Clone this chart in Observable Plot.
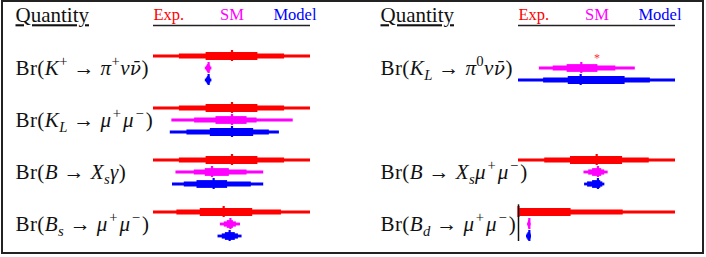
<!DOCTYPE html>
<html><head><meta charset="utf-8">
<script src="https://cdn.jsdelivr.net/npm/d3@7"></script>
<script src="https://cdn.jsdelivr.net/npm/@observablehq/plot@0.6"></script>
<style>
html,body{margin:0;padding:0;background:#fff;}
#wrap{position:relative;width:706px;height:257px;overflow:hidden;}
#frame{position:absolute;left:1px;top:0;width:703px;height:254px;border:2px solid #222;box-sizing:border-box;pointer-events:none;}
</style></head><body>
<div id="wrap"><div id="frame"></div></div>
<script>
// ---------------- data ----------------
const seriesNames = ["Exp", "SM", "Model"];
const seriesColors = ["#ff0000", "#ff00ff", "#0000ff"];
const legendLabels = ["Exp.", "SM", "Model"];
const columns = ["left", "right"];
const headerTitle = "Quantity";
const xDomain = [0, 100]; // normalized position within each panel
const quantityLabels = [
  "Br($K^{+} → π^{+}νν̄$)",
  "Br($K_{L} → μ^{+}μ^{−}$)",
  "Br($B → X_{s}γ$)",
  "Br($B_{s} → μ^{+}μ^{−}$)",
  "Br($K_{L} → π^{0}νν̄$)",
  "Br($B → X_{s}μ^{+}μ^{−}$)",
  "Br($B_{d} → μ^{+}μ^{−}$)"
];
const quantityColumn = ["left", "left", "left", "left", "right", "right", "right"];
const quantityRow = [1, 2, 3, 4, 1, 3, 4];
// [outer lo, outer hi, middle lo, middle hi, inner lo, inner hi, central]
const expValues = [
  [0, 100, 16.5, 83.5, 33.5, 66.5, 50],
  [0, 100, 16.5, 83.5, 33.5, 66.5, 50],
  [0, 100, 16.5, 83.5, 33.5, 66.5, 50],
  [0, 100, 14.9, 81.5, 29.8, 63.2, 44.7],
  null,
  [0, 100, 16.7, 83.3, 33.1, 66.3, 49.8],
  [0, 100, 0, 66.7, 0, 33.5, 0]
];
const smValues = [
  [33.0, 37.2, 33.7, 36.5, 34.3, 35.9, 35.1],
  [11.7, 89.0, 26.2, 66.0, 39.8, 59.6, 50.0],
  [14.3, 70.2, 26.0, 59.6, 33.0, 48.3, 37.3],
  [42.6, 55.4, 45.1, 52.8, 47.0, 50.9, 49.0],
  [13.3, 74.4, 22.1, 62.0, 31.0, 50.6, 40.0],
  [41.7, 57.1, 44.7, 54.9, 47.2, 53.0, 50.6],
  [5.8, 8.0, 6.2, 7.6, 6.5, 7.3, 6.9]
];
const modelValues = [
  [33.0, 37.2, 33.7, 36.5, 34.3, 35.9, 35.1],
  [10.7, 80.2, 21.3, 73.8, 36.2, 63.8, 50.0],
  [12.1, 70.2, 19.6, 62.3, 27.7, 47.2, 38.3],
  [41.1, 56.4, 43.8, 54.1, 45.8, 52.1, 48.5],
  [0, 100, 16.0, 84.0, 31.7, 67.9, 39.6],
  [42.1, 55.0, 44.0, 53.7, 47.2, 52.4, 50.6],
  [5.1, 8.3, 5.5, 8.0, 6.0, 7.7, 6.9]
];
const unmeasured = [{quantity: 4, series: "Exp", value: 50, symbol: "*"}];
const zeroLines = [{quantity: 6, value: 0}];

// ---------------- tables ----------------
const seriesValues = [expValues, smValues, modelValues];
const levels = [{name: "outer", lo: 0, hi: 1}, {name: "middle", lo: 2, hi: 3}, {name: "inner", lo: 4, hi: 5}];
const levelWidth = {outer: 2.8, middle: 5.2, inner: 7.8};
const segments = [], centrals = [];
quantityLabels.forEach((label, q) => {
  seriesNames.forEach((s, k) => {
    const v = seriesValues[k][q];
    if (!v) return;
    levels.forEach(l => segments.push({col: quantityColumn[q], row: quantityRow[q], series: s, level: l.name, x1: v[l.lo], x2: v[l.hi]}));
    centrals.push({col: quantityColumn[q], row: quantityRow[q], series: s, x: v[6]});
  });
});
const labelRows = quantityLabels.map((label, q) => ({col: quantityColumn[q], row: quantityRow[q], label}));
const headerRows = columns.map(c => ({col: c, row: 0}));
const legendRows = columns.flatMap(c => seriesNames.map((s, i) => ({col: c, row: 0, series: s, label: legendLabels[i]})));
const starRows = unmeasured.map(d => ({col: quantityColumn[d.quantity], row: quantityRow[d.quantity], ...d}));
const zeroRows = zeroLines.map(d => ({col: quantityColumn[d.quantity], row: quantityRow[d.quantity], ...d}));

const F = 21; // label font size
const serif = "Liberation Serif";
const face = {fx: "col", fy: "row"};

const plot = Plot.plot({
  width: 706, height: 257,
  marginTop: 0, marginBottom: 0, marginLeft: 153, marginRight: 31,
  fx: {domain: columns, paddingInner: 0.5699, paddingOuter: 0, axis: null},
  fy: {domain: [0, 1, 2, 3, 4], range: [0, 261.5], paddingInner: 0, paddingOuter: 0, axis: null},
  x: {domain: xDomain, axis: null},
  y: {type: "band", domain: seriesNames, range: [-3.5, 31.5], paddingInner: 1 / 12, paddingOuter: 0, axis: null},
  color: {domain: seriesNames, range: seriesColors},
  style: {fontFamily: serif, background: "white", color: "#111"},
  marks: [
    ...levels.map(l => Plot.ruleY(segments.filter(d => d.level === l.name), {
      ...face, x1: "x1", x2: "x2", y: "series", stroke: "series", strokeWidth: levelWidth[l.name]
    })),
    Plot.tickX(centrals, {...face, x: "x", y: "series", stroke: "series", strokeWidth: 2.2}),
    Plot.ruleX(zeroRows, {...face, x: "value", y1: () => "Exp", y2: () => "Model", stroke: "#111", strokeWidth: 1.5, insetTop: -1.7, insetBottom: 0}),
    Plot.text(starRows, {...face, x: "value", y: "series", text: "symbol", fill: "#ff3030", fontSize: 12, dy: 2, fontFamily: serif}),
    Plot.text(labelRows, {...face, x: () => xDomain[0], y: () => "SM", text: "label", textAnchor: "start", dx: -138, dy: 0, fontSize: F, fontFamily: serif}),
    Plot.text(headerRows, {...face, x: () => xDomain[0], y: () => "SM", text: () => headerTitle, textAnchor: "start", dx: -138, dy: -0.5, fontSize: F, fontFamily: serif}),
    Plot.text(legendRows.filter(d => d.series === "Exp"), {...face, x: () => xDomain[0], y: () => "SM", text: "label", fill: "series", textAnchor: "start", dy: -1.5, fontSize: 16.5, fontFamily: serif}),
    Plot.text(legendRows.filter(d => d.series === "SM"), {...face, x: () => (xDomain[0] + xDomain[1]) / 2, y: () => "SM", text: "label", fill: "series", textAnchor: "middle", dy: -1.5, fontSize: 16.5, fontFamily: serif}),
    Plot.text(legendRows.filter(d => d.series === "Model"), {...face, x: () => xDomain[1], y: () => "SM", text: "label", fill: "series", textAnchor: "end", dx: 6, dy: -1.5, fontSize: 16.5, fontFamily: serif}),
    Plot.ruleY(headerRows, {...face, x1: () => xDomain[0], x2: () => xDomain[1], y: () => "SM", dy: 9.5, stroke: "#222", strokeWidth: 1.3})
  ]
});

// ---------------- math-style labels ----------------
function parseMath(str) {
  const segs = [];
  let math = false, prevBase = "";
  const chars = Array.from(str);
  const push = (c, script, m) => {
    if (c === "\u0304") { // barred letter: keep glyph + combining mark in one cluster
      const last = segs[segs.length - 1];
      const base = last.text.slice(-1);
      last.text = last.text.slice(0, -1);
      if (!last.text) segs.pop();
      segs.push({text: base + c, italic: true, script, barred: true});
      return;
    }
    const italic = m && /[A-Za-z\u0370-\u03ff]/.test(c);
    const wide = m && (c === "μ" || (script === "sup" && prevBase === "μ"));
    if (script === "base") prevBase = c;
    const last = segs[segs.length - 1];
    if (last && !last.barred && !last.wide && !wide && last.italic === italic && last.script === script) last.text += c;
    else segs.push({text: c, italic, script, wide});
  };
  for (let i = 0; i < chars.length; i++) {
    const ch = chars[i];
    if (ch === "$") { math = !math; continue; }
    if (math && (ch === "^" || ch === "_") && chars[i + 1] === "{") {
      let end = i + 2;
      while (chars[end] !== "}") end++;
      for (const c of chars.slice(i + 2, end)) push(c, ch === "^" ? "sup" : "sub", math);
      i = end; continue;
    }
    push(ch, "base", math);
  }
  return segs;
}
function applyMath(el, size) {
  const segs = parseMath(el.textContent);
  el.textContent = "";
  el.setAttribute("letter-spacing", 0.4);
  let shift = 0, pendingDx = 0;
  for (const s of segs) {
    const t = document.createElementNS("http://www.w3.org/2000/svg", "tspan");
    const target = s.script === "sup" ? -0.42 * size : s.script === "sub" ? 0.24 * size : 0;
    if (pendingDx) { t.setAttribute("dx", pendingDx); pendingDx = 0; }
    if (target !== shift) t.setAttribute("dy", target - shift);
    shift = target;
    if (s.script !== "base") t.setAttribute("font-size", 0.7 * size);
    if (s.barred) { t.setAttribute("font-family", "DejaVu Serif"); t.setAttribute("font-size", 0.88 * size); }
    if (s.italic) t.setAttribute("font-style", "italic");
    if (s.wide) pendingDx = 1.5;
    t.textContent = s.text;
    el.appendChild(t);
  }
}
d3.select(plot).selectAll("text").each(function() {
  const txt = this.textContent;
  if (txt.includes("$")) applyMath(this, F);
  else if (txt === headerTitle) this.setAttribute("text-decoration", "underline");
});

const wrap = document.getElementById("wrap");
wrap.insertBefore(plot, wrap.firstChild);
</script>
</body></html>
